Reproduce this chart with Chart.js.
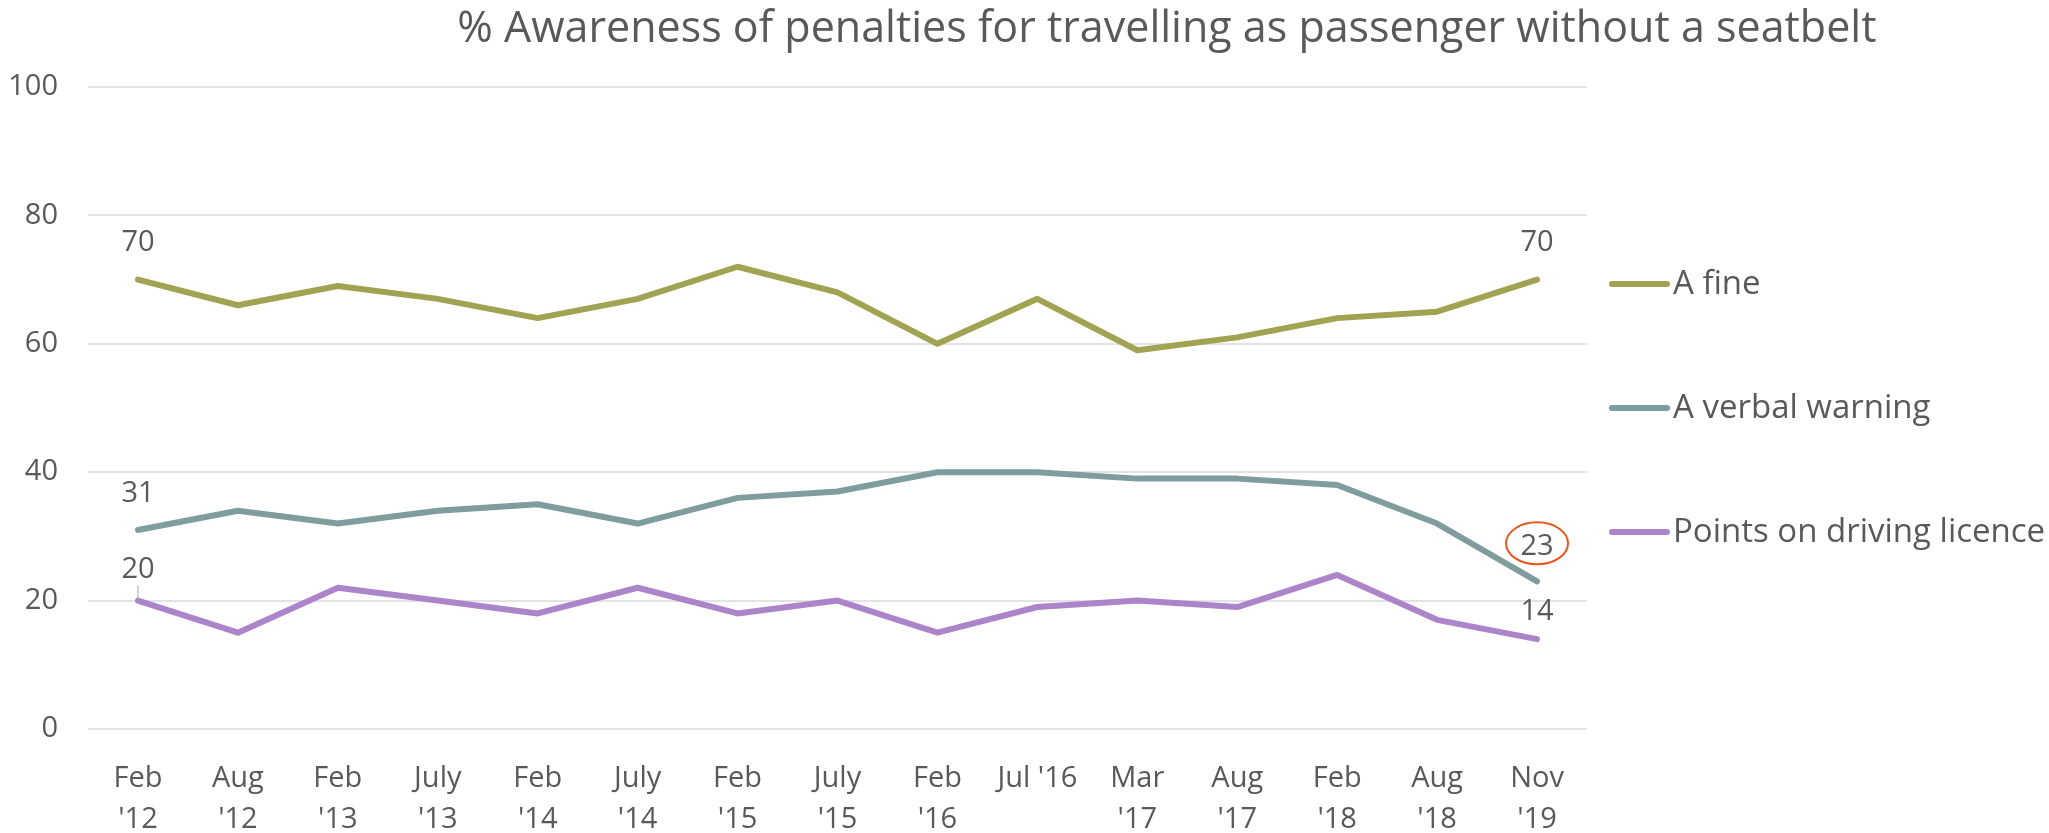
<!DOCTYPE html>
<html>
<head>
<meta charset="utf-8">
<script src="https://cdn.jsdelivr.net/npm/chart.js@4.4.1/dist/chart.umd.min.js"></script>
<style>
    body { margin: 0; background: #fff; }
    #box { width: 2049px; height: 833px; }
</style>
</head>
<body>
<div id="box"><canvas id="chart_1"></canvas></div>
<script>
// Dados
const categorias = [
    ['Feb', "'12"], ['Aug', "'12"], ['Feb', "'13"], ['July', "'13"], ['Feb', "'14"],
    ['July', "'14"], ['Feb', "'15"], ['July', "'15"], ['Feb', "'16"], "Jul '16",
    ['Mar', "'17"], ['Aug', "'17"], ['Feb', "'18"], ['Aug', "'18"], ['Nov', "'19"]
];
const multa = [70, 66, 69, 67, 64, 67, 72, 68, 60, 67, 59, 61, 64, 65, 70];
const aviso = [31, 34, 32, 34, 35, 32, 36, 37, 40, 40, 39, 39, 38, 32, 23];
const pontos = [20, 15, 22, 20, 18, 22, 18, 20, 15, 19, 20, 19, 24, 17, 14];
const eixoY = [0, 20, 40, 60, 80, 100];

const titulo = '% Awareness of penalties for travelling as passenger without a seatbelt';
const cinza = '#595959';
const fonte = '"Open Sans", sans-serif';

// rótulos só no primeiro e no último ponto de cada série
const rotulos = [
    { serie: 0, idx: 0, dy: -37 },
    { serie: 0, idx: 14, dy: -37 },
    { serie: 1, idx: 0, dy: -36 },
    { serie: 1, idx: 14, dy: -35, circulo: true },
    { serie: 2, idx: 0, dy: -31, guia: true },
    { serie: 2, idx: 14, dy: -27 }
];

const pluginTitulo = {
    id: 'tituloTopo',
    afterDraw(chart) {
        const ctx = chart.ctx;
        ctx.save();
        ctx.font = '43px ' + fonte;
        ctx.fillStyle = cinza;
        ctx.textAlign = 'center';
        ctx.textBaseline = 'middle';
        ctx.fillText(titulo, chart.width * 0.5695, 30);
        ctx.restore();
    }
};

const pluginRotulos = {
    id: 'rotulosPontos',
    afterDatasetsDraw(chart) {
        const ctx = chart.ctx;
        ctx.save();
        ctx.font = '29px ' + fonte;
        ctx.textAlign = 'center';
        ctx.textBaseline = 'middle';
        rotulos.forEach(r => {
            const p = chart.getDatasetMeta(r.serie).data[r.idx];
            const valor = chart.data.datasets[r.serie].data[r.idx];
            const y = p.y + r.dy;
            if (r.guia) {
                ctx.strokeStyle = '#A6A6A6';
                ctx.lineWidth = 1;
                ctx.beginPath();
                ctx.moveTo(p.x, y + 16);
                ctx.lineTo(p.x, p.y);
                ctx.stroke();
            }
            ctx.fillStyle = cinza;
            ctx.fillText(String(valor), p.x, y);
            if (r.circulo) {
                ctx.strokeStyle = '#E8561E';
                ctx.lineWidth = 2;
                ctx.beginPath();
                ctx.ellipse(p.x, y - 3, 31, 21, 0, 0, Math.PI * 2);
                ctx.stroke();
            }
        });
        ctx.restore();
    }
};

// legenda à direita, espaçada como no original
const pluginLegenda = {
    id: 'legendaLado',
    afterDraw(chart) {
        const ctx = chart.ctx;
        const area = chart.chartArea;
        const meio = (area.top + area.bottom) / 2;
        const x0 = area.right + 25;
        ctx.save();
        ctx.font = '33px ' + fonte;
        ctx.textBaseline = 'middle';
        ctx.lineCap = 'round';
        chart.data.datasets.forEach((ds, i) => {
            const y = meio + (i - 1) * 124;
            ctx.strokeStyle = ds.borderColor;
            ctx.lineWidth = 6;
            ctx.beginPath();
            ctx.moveTo(x0, y);
            ctx.lineTo(x0 + 55, y);
            ctx.stroke();
            ctx.fillStyle = cinza;
            ctx.fillText(ds.label, x0 + 61, y + 1);
        });
        ctx.restore();
    }
};

const chart_1 = document.getElementById('chart_1').getContext('2d');
const chart1 = new Chart(chart_1, {
    type: 'line',
    data: {
        labels: categorias,
        datasets: [
            { label: 'A fine', data: multa, borderColor: '#A2A352' },
            { label: 'A verbal warning', data: aviso, borderColor: '#7F9C9E' },
            { label: 'Points on driving licence', data: pontos, borderColor: '#AB84CA' }
        ]
    },
    options: {
        responsive: true,
        maintainAspectRatio: false,
        animation: false,
        layout: { padding: { top: 87, left: 10, right: 462, bottom: 0 } },
        elements: {
            line: { borderWidth: 6, tension: 0, borderCapStyle: 'round', borderJoinStyle: 'round' },
            point: { radius: 0, hoverRadius: 0 }
        },
        plugins: {
            legend: { display: false },
            tooltip: { enabled: false }
        },
        scales: {
            x: {
                offset: true,
                grid: { display: false },
                border: { display: false },
                ticks: {
                    color: cinza,
                    font: { family: fonte, size: 29, lineHeight: 1.43 },
                    padding: 21,
                    maxRotation: 0,
                    autoSkip: false
                },
                afterFit(scale) { scale.height = 104; }
            },
            y: {
                min: 0,
                max: 100,
                afterBuildTicks(scale) { scale.ticks = eixoY.map(v => ({ value: v })); },
                grid: { color: '#E2E2E7', lineWidth: 2, drawTicks: false },
                border: { display: false },
                ticks: {
                    color: cinza,
                    font: { family: fonte, size: 29 },
                    padding: 30
                },
                afterFit(scale) { scale.width = 78; }
            }
        }
    },
    plugins: [pluginTitulo, pluginRotulos, pluginLegenda]
});
</script>
</body>
</html>
